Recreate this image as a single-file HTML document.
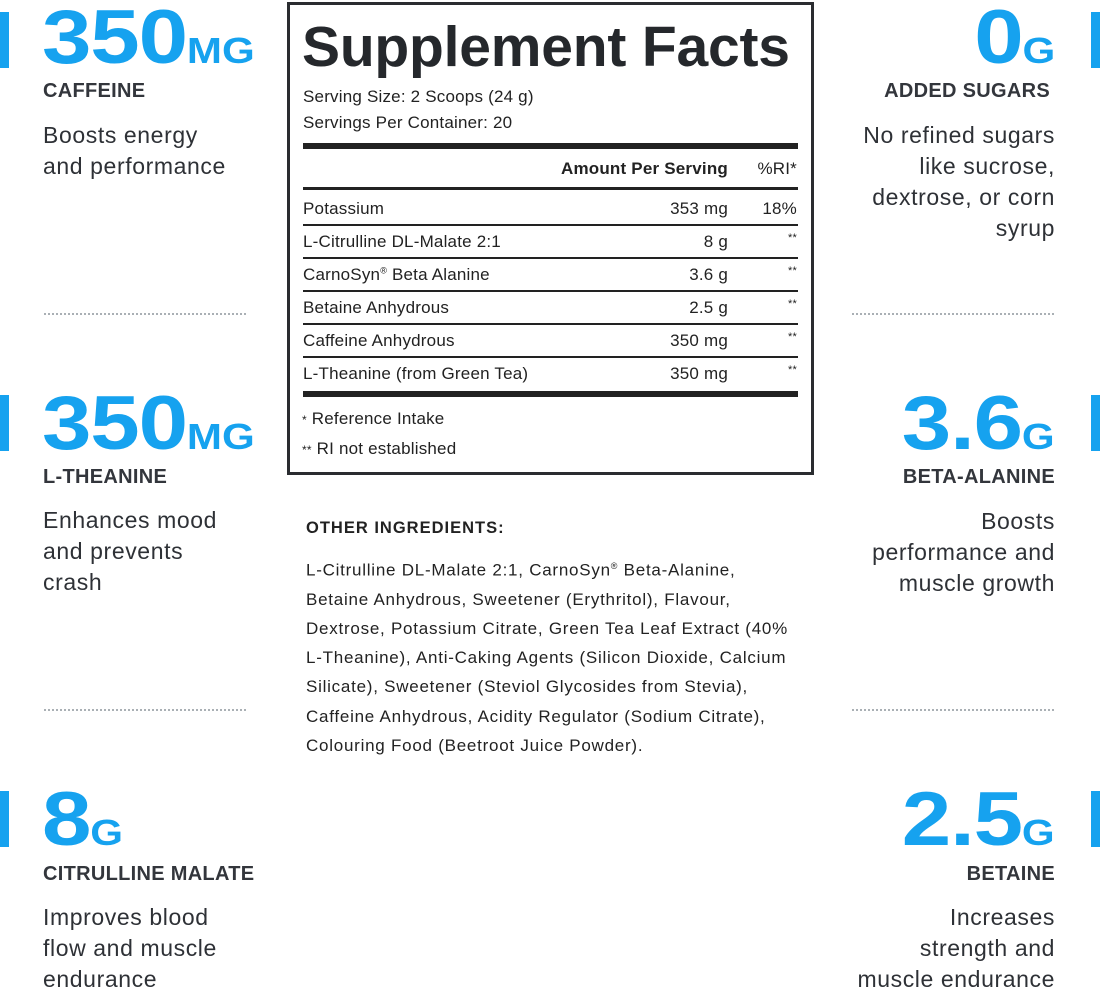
<!DOCTYPE html>
<html><head><meta charset="utf-8"><style>
*{margin:0;padding:0;box-sizing:border-box}
body{width:1100px;height:988px;background:#fff;position:relative;overflow:hidden;font-family:"Liberation Sans",sans-serif;color:#2b2e33}
.a{position:absolute;white-space:nowrap}
.bar{position:absolute;width:9px;height:56px;background:#16a2ef}
.num{position:absolute;font-weight:bold;color:#16a2ef;font-size:76px;line-height:78px;letter-spacing:-1px;transform-origin:left top;transform:scaleX(1.17);white-space:nowrap}
.num small{font-size:36px;letter-spacing:0}
.r{text-align:right}
.numr{transform-origin:right top}
.lab{position:absolute;font-weight:bold;font-size:20px;color:#33363c;white-space:nowrap;letter-spacing:.3px}
.desc{position:absolute;font-size:23px;line-height:31px;color:#2e3136;letter-spacing:.6px;white-space:nowrap}
.dot{position:absolute;width:202px;border-top:2px dotted #aab0b5}
.box{position:absolute;left:287px;top:2px;width:527px;height:473px;border:3px solid #2a2c30}
.t{position:absolute;font-size:17px;color:#222;white-space:nowrap;letter-spacing:.2px}
.hr{position:absolute;left:303px;width:495px;background:#222}
</style></head><body>
<div class="bar" style="left:0;top:12px"></div>
<div class="bar" style="left:0;top:395px"></div>
<div class="bar" style="left:0;top:791px"></div>
<div class="bar" style="left:1091px;top:12px"></div>
<div class="bar" style="left:1091px;top:395px"></div>
<div class="bar" style="left:1091px;top:791px"></div>

<div class="num" style="left:42px;top:-1px">350<small>MG</small></div>
<div class="lab" style="left:43px;top:80px">CAFFEINE</div>
<div class="desc" style="left:43px;top:120px">Boosts energy<br>and performance</div>
<div class="dot" style="left:44px;top:313px"></div>

<div class="num" style="left:42px;top:385px">350<small>MG</small></div>
<div class="lab" style="left:43px;top:466px">L-THEANINE</div>
<div class="desc" style="left:43px;top:505px">Enhances mood<br>and prevents<br>crash</div>
<div class="dot" style="left:44px;top:709px"></div>

<div class="num" style="left:42px;top:781px">8<small>G</small></div>
<div class="lab" style="left:43px;top:863px">CITRULLINE MALATE</div>
<div class="desc" style="left:43px;top:902px">Improves blood<br>flow and muscle<br>endurance</div>

<div class="num numr" style="right:45px;top:-1px">0<small>G</small></div>
<div class="lab" style="right:50px;top:80px">ADDED SUGARS</div>
<div class="desc r" style="right:45px;top:120px">No refined sugars<br>like sucrose,<br>dextrose, or corn<br>syrup</div>
<div class="dot" style="left:852px;top:313px"></div>

<div class="num numr" style="right:45px;top:385px">3.6<small>G</small></div>
<div class="lab" style="right:45px;top:466px">BETA-ALANINE</div>
<div class="desc r" style="right:45px;top:506px">Boosts<br>performance and<br>muscle growth</div>
<div class="dot" style="left:852px;top:709px"></div>

<div class="num numr" style="right:45px;top:781px">2.5<small>G</small></div>
<div class="lab" style="right:45px;top:863px">BETAINE</div>
<div class="desc r" style="right:45px;top:902px">Increases<br>strength and<br>muscle endurance</div>

<div class="box"></div>
<div class="a" style="left:302px;top:14px;font-size:57px;font-weight:bold;color:#25282c;letter-spacing:-.2px">Supplement Facts</div>
<div class="t" style="left:303px;top:87px">Serving Size: 2 Scoops (24 g)</div>
<div class="t" style="left:303px;top:113px">Servings Per Container: 20</div>
<div class="hr" style="top:143px;height:6px"></div>
<div class="t" style="right:372px;top:159px;font-weight:bold">Amount Per Serving</div>
<div class="t" style="right:303px;top:159px">%RI*</div>
<div class="hr" style="top:187px;height:3px"></div>
<div class="t" style="left:303px;top:199px">Potassium</div><div class="t" style="right:372px;top:199px">353 mg</div><div class="t" style="right:303px;top:199px">18%</div>
<div class="hr" style="top:224px;height:2px"></div>
<div class="t" style="left:303px;top:232px">L-Citrulline DL-Malate 2:1</div><div class="t" style="right:372px;top:232px">8 g</div><div class="t" style="right:303px;top:232px;font-size:11px">**</div>
<div class="hr" style="top:257px;height:2px"></div>
<div class="t" style="left:303px;top:265px">CarnoSyn<sup style="font-size:9px">®</sup> Beta Alanine</div><div class="t" style="right:372px;top:265px">3.6 g</div><div class="t" style="right:303px;top:265px;font-size:11px">**</div>
<div class="hr" style="top:290px;height:2px"></div>
<div class="t" style="left:303px;top:298px">Betaine Anhydrous</div><div class="t" style="right:372px;top:298px">2.5 g</div><div class="t" style="right:303px;top:298px;font-size:11px">**</div>
<div class="hr" style="top:323px;height:2px"></div>
<div class="t" style="left:303px;top:331px">Caffeine Anhydrous</div><div class="t" style="right:372px;top:331px">350 mg</div><div class="t" style="right:303px;top:331px;font-size:11px">**</div>
<div class="hr" style="top:356px;height:2px"></div>
<div class="t" style="left:303px;top:364px">L-Theanine (from Green Tea)</div><div class="t" style="right:372px;top:364px">350 mg</div><div class="t" style="right:303px;top:364px;font-size:11px">**</div>
<div class="hr" style="top:391px;height:6px"></div>
<div class="t" style="left:302px;top:409px"><span style="font-size:12px">*</span> Reference Intake</div>
<div class="t" style="left:302px;top:439px"><span style="font-size:12px">**</span> RI not established</div>

<div class="t" style="left:306px;top:519px;font-weight:bold;letter-spacing:1px;font-size:16.5px">OTHER INGREDIENTS:</div>
<div class="a" style="left:306px;top:552px;font-size:17px;line-height:29.2px;color:#222;letter-spacing:.75px">L-Citrulline DL-Malate 2:1, CarnoSyn<sup style="font-size:9px">®</sup> Beta-Alanine,<br>Betaine Anhydrous, Sweetener (Erythritol), Flavour,<br>Dextrose, Potassium Citrate, Green Tea Leaf Extract (40%<br>L-Theanine), Anti-Caking Agents (Silicon Dioxide, Calcium<br>Silicate), Sweetener (Steviol Glycosides from Stevia),<br>Caffeine Anhydrous, Acidity Regulator (Sodium Citrate),<br>Colouring Food (Beetroot Juice Powder).</div>
</body></html>
